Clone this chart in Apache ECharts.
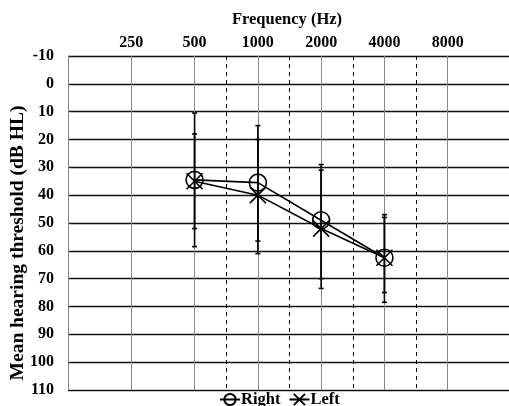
<!DOCTYPE html>
<html lang="en">
<head>
    <meta charset="UTF-8">
    <title>Audiogram</title>
    <script src="https://cdn.jsdelivr.net/npm/echarts@6/dist/echarts.min.js"></script>
    <style>
        html,body{
            margin: 0;
            height: 100%;
        }
    </style>
</head>
<body>
<div id="main" style="width: 509px;height: 406px"></div>
</body>
</html>
<script>
    // frequency labels for positions 1..6 on the x scale
    var freqLabels = ['', '250', '500', '1000', '2000', '4000', '8000', ''];
    // tested frequencies (index on freqLabels)
    var testedPos = [2, 3, 4, 5];
    // mid-octave dashed lines
    var dashedPos = [2.5, 3.5, 4.5, 5.5];

    var rightMean = [34.5, 35.5, 49, 62.5];
    var rightLow = [10.5, 15, 29, 47];
    var rightHigh = [58.5, 56.5, 70, 78.5];

    var leftMean = [35, 40, 52, 62.5];
    var leftLow = [18, 20, 31, 48];
    var leftHigh = [52, 61, 73.5, 75];

    var font = 'Liberation Serif';

    function pairs(xs, ys) {
        var out = [];
        for (var i = 0; i < xs.length; i++) out.push([xs[i], ys[i]]);
        return out;
    }
    function bars(xs, lo, hi) {
        var out = [];
        for (var i = 0; i < xs.length; i++) out.push([xs[i], lo[i], hi[i]]);
        return out;
    }

    // error bar with small caps
    function renderBar(params, api) {
        var top = api.coord([api.value(0), api.value(1)]);
        var bot = api.coord([api.value(0), api.value(2)]);
        var w = 2.5;
        var st = {stroke: '#000', lineWidth: 1.6};
        return {
            type: 'group',
            children: [
                {type: 'line', shape: {x1: top[0], y1: top[1], x2: bot[0], y2: bot[1]}, style: st},
                {type: 'line', shape: {x1: top[0] - w, y1: top[1], x2: top[0] + w, y2: top[1]}, style: st},
                {type: 'line', shape: {x1: bot[0] - w, y1: bot[1], x2: bot[0] + w, y2: bot[1]}, style: st}
            ]
        };
    }

    var crossPath = 'path://M0,0L10,10M10,0L0,10';

    var myChart = echarts.init(document.getElementById('main'));

    var option = {
        animation: false,
        backgroundColor: '#fff',
        textStyle: {fontFamily: font},
        title: {
            text: 'Frequency (Hz)',
            left: 282,
            textAlign: 'center',
            top: 6,
            textStyle: {fontFamily: font, fontWeight: 'bold', fontSize: 16.5, color: '#000'}
        },
        legend: {
            left: 214,
            top: 386,
            itemGap: 8,
            itemWidth: 20,
            itemHeight: 14,
            textStyle: {fontFamily: font, fontWeight: 'bold', fontSize: 16.5, color: '#000', padding: [0, 0, 0, -4]},
            data: ['Right', 'Left']
        },
        grid: {left: 68, top: 56, width: 443, height: 334, outerBoundsMode: 'none', containLabel: false},
        xAxis: {
            type: 'value',
            position: 'top',
            min: 0,
            max: 7,
            interval: 1,
            axisLine: {show: false},
            axisTick: {show: false},
            axisLabel: {
                margin: 5,
                fontFamily: font,
                fontWeight: 'bold',
                fontSize: 16,
                color: '#000',
                formatter: function (v) { return freqLabels[v] || ''; }
            },
            splitLine: {show: true, lineStyle: {color: '#888', width: 1}}
        },
        yAxis: {
            type: 'value',
            inverse: true,
            min: -10,
            max: 110,
            interval: 10,
            name: 'Mean hearing threshold (dB HL)',
            nameLocation: 'middle',
            nameGap: 40,
            nameMoveOverlap: false,
            nameTextStyle: {fontFamily: font, fontWeight: 'bold', fontSize: 19.5, color: '#000', padding: [0, 40, 0, 0]},
            axisLine: {show: true, lineStyle: {color: '#888', width: 1}},
            axisTick: {show: false},
            axisLabel: {
                margin: 14,
                fontFamily: font,
                fontWeight: 'bold',
                fontSize: 16,
                color: '#000'
            },
            splitLine: {show: true, lineStyle: {color: '#111', width: 1.3}}
        },
        series: [
            {
                name: 'dashed',
                type: 'line',
                data: [],
                silent: true,
                markLine: {
                    symbol: 'none',
                    label: {show: false},
                    lineStyle: {color: '#000', type: [4, 4], width: 1},
                    data: dashedPos.map(function (p) { return {xAxis: p}; })
                }
            },
            {
                name: 'rightErr',
                type: 'custom',
                renderItem: renderBar,
                data: bars(testedPos, rightLow, rightHigh),
                z: 3
            },
            {
                name: 'leftErr',
                type: 'custom',
                renderItem: renderBar,
                data: bars(testedPos, leftLow, leftHigh),
                z: 3
            },
            {
                name: 'Right',
                type: 'line',
                data: pairs(testedPos, rightMean),
                symbol: 'circle',
                symbolSize: 17,
                lineStyle: {color: '#000', width: 1.6},
                itemStyle: {color: 'transparent', borderColor: '#000', borderWidth: 1.6},
                z: 4
            },
            {
                name: 'Left',
                type: 'line',
                data: pairs(testedPos, leftMean),
                symbol: crossPath,
                symbolSize: 16,
                lineStyle: {color: '#000', width: 1.6},
                itemStyle: {color: 'transparent', borderColor: '#000', borderWidth: 1.6},
                z: 4
            }
        ]
    };

    myChart.setOption(option);
</script>
